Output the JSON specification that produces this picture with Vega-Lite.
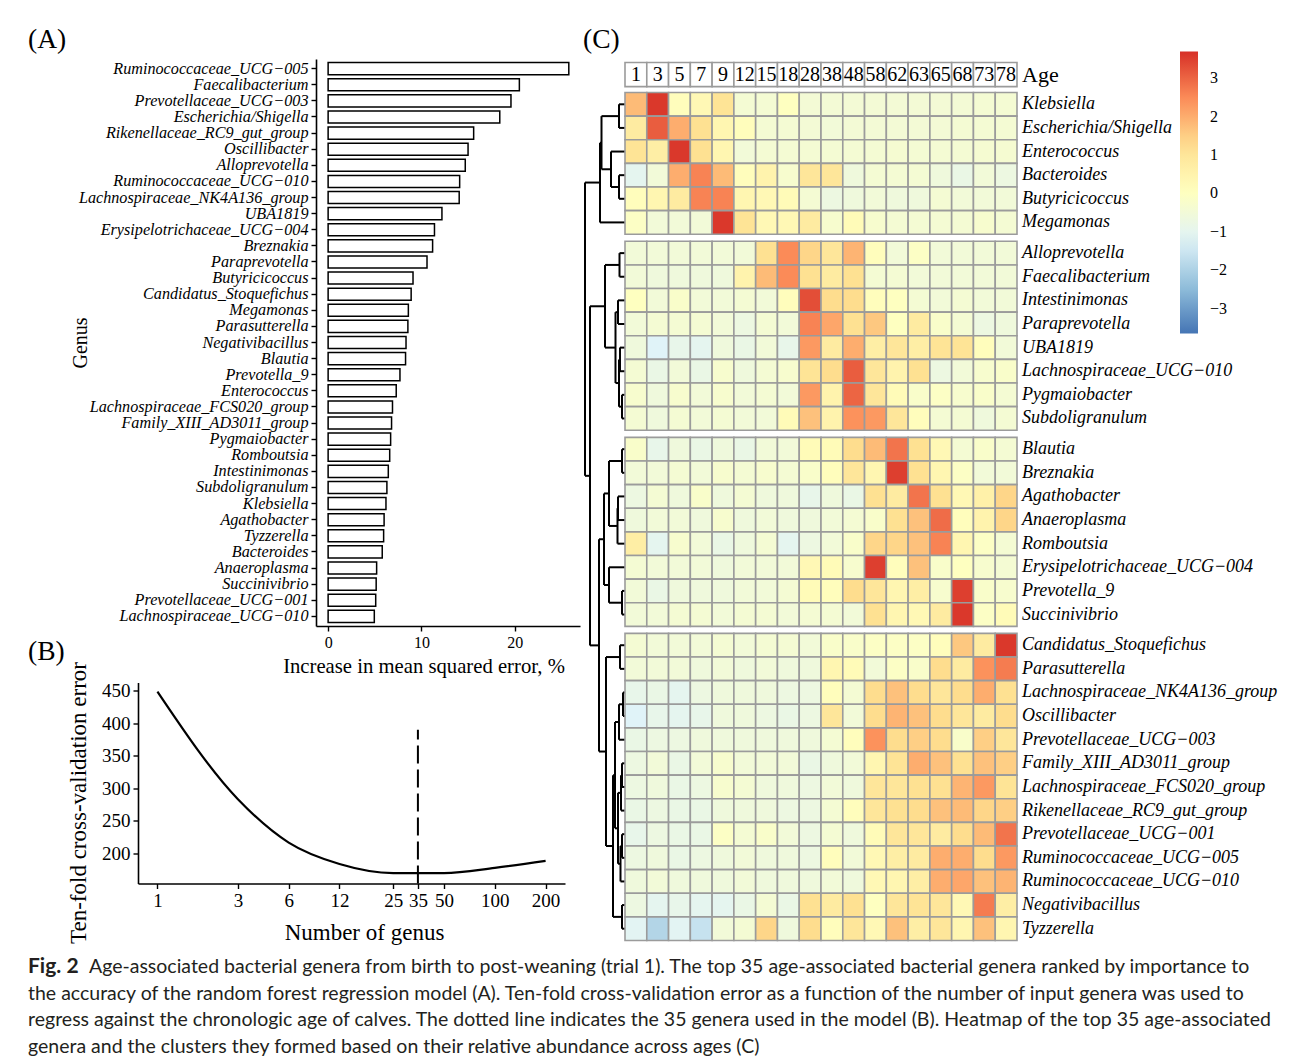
{
  "$schema": "https://vega.github.io/schema/vega-lite/v6.json",
  "padding": {"left": 28, "top": 25, "right": 5, "bottom": 5},
  "background": "white",
  "config": {
    "view": {"stroke": null},
    "font": "Liberation Serif",
    "axis": {"grid": false, "domainColor": "#000", "tickColor": "#000", "labelColor": "#000", "titleColor": "#000", "titleFontWeight": "normal", "labelFont": "Liberation Serif", "titleFont": "Liberation Serif", "domainWidth": 1.6, "tickWidth": 1.4, "tickSize": 5},
    "title": {"font": "Liberation Serif", "fontSize": 27.5, "fontWeight": "normal", "anchor": "start", "color": "#000", "frame": "group"}
  },
  "datasets": {
    "genera": [
      {"genus":"Klebsiella","imp":6.2,"row":1,"cluster":1,"1":1.8,"3":3.6,"5":0.1,"7":0.3,"9":1.1,"12":-0.4,"15":-0.4,"18":0.0,"28":-0.45,"38":-0.45,"48":-0.45,"58":-0.45,"62":-0.45,"63":-0.45,"65":-0.45,"68":-0.45,"73":-0.4,"78":-0.4},
      {"genus":"Escherichia/Shigella","imp":18.4,"row":2,"cluster":1,"1":0.8,"3":3.1,"5":2.0,"7":1.2,"9":0.4,"12":0.1,"15":-0.4,"18":-0.4,"28":-0.45,"38":-0.5,"48":-0.45,"58":-0.45,"62":-0.45,"63":-0.45,"65":-0.45,"68":-0.4,"73":-0.4,"78":-0.4},
      {"genus":"Enterococcus","imp":7.3,"row":3,"cluster":1,"1":1.1,"3":0.7,"5":3.6,"7":1.2,"9":0.4,"12":-0.5,"15":-0.4,"18":-0.4,"28":-0.4,"38":-0.4,"48":-0.4,"58":-0.4,"62":-0.35,"63":-0.4,"65":-0.4,"68":-0.4,"73":-0.35,"78":-0.35},
      {"genus":"Bacteroides","imp":5.8,"row":4,"cluster":1,"1":-1.0,"3":-0.5,"5":2.0,"7":2.6,"9":1.8,"12":0.1,"15":0.5,"18":-0.3,"28":1.0,"38":1.0,"48":-0.6,"58":-0.4,"62":-0.4,"63":-0.4,"65":-0.6,"68":-0.8,"73":-0.5,"78":-0.7},
      {"genus":"Butyricicoccus","imp":9.1,"row":5,"cluster":1,"1":0.1,"3":0.4,"5":0.8,"7":2.6,"9":2.6,"12":0.4,"15":0.3,"18":0.2,"28":-0.4,"38":-0.7,"48":-0.6,"58":-0.5,"62":-0.6,"63":-0.6,"65":-0.4,"68":-0.5,"73":-0.5,"78":-0.5},
      {"genus":"Megamonas","imp":8.6,"row":6,"cluster":1,"1":-0.1,"3":-0.5,"5":-0.5,"7":-0.5,"9":3.6,"12":1.1,"15":0.3,"18":0.3,"28":0.8,"38":-0.3,"48":0.2,"58":-0.3,"62":-0.4,"63":-0.4,"65":-0.4,"68":-0.4,"73":-0.3,"78":-0.4},
      {"genus":"Alloprevotella","imp":14.7,"row":7,"cluster":2,"1":-0.5,"3":-0.5,"5":-0.5,"7":-0.5,"9":-0.5,"12":-0.5,"15":1.2,"18":2.5,"28":1.4,"38":1.0,"48":1.9,"58":0.1,"62":-0.5,"63":-0.1,"65":-0.5,"68":-0.5,"73":-0.5,"78":-0.5},
      {"genus":"Faecalibacterium","imp":20.5,"row":8,"cluster":2,"1":-0.5,"3":-0.6,"5":-0.6,"7":-0.6,"9":-0.6,"12":0.5,"15":1.8,"18":2.5,"28":1.2,"38":0.8,"48":1.2,"58":-0.4,"62":-0.4,"63":-0.5,"65":-0.5,"68":-0.5,"73":-0.5,"78":-0.5},
      {"genus":"Intestinimonas","imp":6.45,"row":9,"cluster":2,"1":0.0,"3":-0.5,"5":-0.2,"7":-0.5,"9":-0.5,"12":-0.4,"15":-0.5,"18":0.1,"28":3.3,"38":1.3,"48":1.3,"58":0.1,"62":0.0,"63":-0.4,"65":-0.5,"68":-0.4,"73":-0.5,"78":-0.5},
      {"genus":"Paraprevotella","imp":10.6,"row":10,"cluster":2,"1":-0.5,"3":-0.4,"5":-0.4,"7":-0.4,"9":-0.5,"12":-0.7,"15":-0.4,"18":-0.5,"28":2.6,"38":2.1,"48":1.2,"58":1.6,"62":0.0,"63":0.8,"65":-0.2,"68":-0.4,"73":-0.7,"78":-0.6},
      {"genus":"UBA1819","imp":12.2,"row":11,"cluster":2,"1":-0.6,"3":-1.2,"5":-0.9,"7":-1.0,"9":-0.6,"12":-0.8,"15":-0.5,"18":-0.9,"28":2.3,"38":0.8,"48":2.0,"58":0.7,"62":1.0,"63":0.7,"65":1.1,"68":1.1,"73":0.1,"78":-0.5},
      {"genus":"Lachnospiraceae_UCG−010","imp":4.95,"row":12,"cluster":2,"1":-0.4,"3":-0.8,"5":-0.5,"7":-0.8,"9":-0.3,"12":-0.6,"15":-0.4,"18":-0.3,"28":1.1,"38":1.3,"48":3.1,"58":1.0,"62":0.5,"63":1.2,"65":-0.7,"68":-0.5,"73":-0.3,"78":-0.2},
      {"genus":"Pygmaiobacter","imp":6.7,"row":13,"cluster":2,"1":-0.3,"3":-0.6,"5":-0.3,"7":-0.5,"9":-0.3,"12":-0.5,"15":-0.4,"18":-0.5,"28":2.3,"38":0.5,"48":3.0,"58":1.0,"62":0.2,"63":-0.2,"65":-0.1,"68":-0.3,"73":-0.2,"78":-0.4},
      {"genus":"Subdoligranulum","imp":6.3,"row":14,"cluster":2,"1":-0.4,"3":-0.6,"5":-0.4,"7":-0.5,"9":-0.4,"12":-0.5,"15":-0.5,"18":0.2,"28":1.7,"38":0.5,"48":2.4,"58":2.3,"62":1.0,"63":0.1,"65":-0.4,"68":-0.4,"73":-0.6,"78":-0.4},
      {"genus":"Blautia","imp":8.3,"row":15,"cluster":3,"1":-0.2,"3":-0.9,"5":-0.6,"7":-0.8,"9":-0.6,"12":-0.8,"15":-0.5,"18":-0.5,"28":0.2,"38":0.2,"48":1.3,"58":1.8,"62":2.8,"63":1.2,"65":0.3,"68":-0.4,"73":-0.2,"78":-0.4},
      {"genus":"Breznakia","imp":11.2,"row":16,"cluster":3,"1":-0.5,"3":-0.5,"5":-0.4,"7":-0.5,"9":-0.3,"12":-0.4,"15":-0.3,"18":-0.4,"28":-0.2,"38":0.1,"48":1.0,"58":0.4,"62":3.5,"63":1.2,"65":0.4,"68":-0.1,"73":-0.5,"78":-0.5},
      {"genus":"Agathobacter","imp":6.0,"row":17,"cluster":3,"1":-0.7,"3":-0.4,"5":-0.6,"7":-0.2,"9":-0.6,"12":-0.4,"15":-0.6,"18":-0.6,"28":-0.9,"38":-0.6,"48":-0.8,"58":1.2,"62":0.8,"63":2.8,"65":1.2,"68":0.3,"73":0.6,"78":1.4},
      {"genus":"Anaeroplasma","imp":5.2,"row":18,"cluster":3,"1":-0.6,"3":-0.5,"5":-0.5,"7":-0.6,"9":-0.3,"12":-0.6,"15":-0.5,"18":-0.6,"28":-0.6,"38":-0.5,"48":-0.4,"58":-0.2,"62":1.2,"63":1.7,"65":2.9,"68":0.1,"73":0.5,"78":1.4},
      {"genus":"Romboutsia","imp":6.6,"row":19,"cluster":3,"1":0.7,"3":-1.0,"5":-0.3,"7":-0.5,"9":-0.8,"12":-0.6,"15":-0.4,"18":-1.0,"28":-0.7,"38":-0.5,"48":-0.2,"58":1.4,"62":1.4,"63":1.7,"65":2.6,"68":0.4,"73":-0.1,"78":-0.4},
      {"genus":"Erysipelotrichaceae_UCG−004","imp":11.4,"row":20,"cluster":3,"1":-0.4,"3":-0.5,"5":-0.5,"7":-0.5,"9":-0.6,"12":-0.5,"15":-0.5,"18":-0.5,"28":0.3,"38":0.2,"48":-0.3,"58":3.5,"62":0.1,"63":1.7,"65":-0.2,"68":0.0,"73":-0.3,"78":-0.4},
      {"genus":"Prevotella_9","imp":7.7,"row":21,"cluster":3,"1":-0.5,"3":-0.8,"5":-0.6,"7":-0.6,"9":-0.6,"12":-0.5,"15":-0.5,"18":-0.4,"28":0.2,"38":0.1,"48":1.3,"58":1.0,"62":0.4,"63":0.7,"65":-0.3,"68":3.5,"73":-0.2,"78":-0.3},
      {"genus":"Succinivibrio","imp":5.15,"row":22,"cluster":3,"1":-0.5,"3":-0.5,"5":-0.4,"7":-0.4,"9":-0.5,"12":-0.4,"15":-0.4,"18":-0.5,"28":-0.4,"38":-0.4,"48":-0.5,"58":1.2,"62":0.4,"63":0.3,"65":0.8,"68":3.6,"73":-0.1,"78":0.2},
      {"genus":"Candidatus_Stoquefichus","imp":8.9,"row":23,"cluster":4,"1":-0.4,"3":-0.5,"5":-0.5,"7":-0.5,"9":-0.4,"12":-0.5,"15":-0.4,"18":-0.4,"28":-0.5,"38":-0.2,"48":-0.2,"58":-0.1,"62":-0.1,"63":-0.1,"65":0.1,"68":1.6,"73":0.8,"78":3.6},
      {"genus":"Parasutterella","imp":8.55,"row":24,"cluster":4,"1":-0.5,"3":-0.5,"5":-0.5,"7":-0.6,"9":-0.5,"12":-0.6,"15":-0.5,"18":-0.6,"28":-0.6,"38":0.4,"48":0.2,"58":-0.5,"62":-0.1,"63":-0.2,"65":1.3,"68":0.8,"73":2.4,"78":2.7},
      {"genus":"Lachnospiraceae_NK4A136_group","imp":14.05,"row":25,"cluster":4,"1":-0.9,"3":-0.8,"5":-1.0,"7":-0.7,"9":-0.6,"12":-0.6,"15":-0.6,"18":-0.7,"28":-0.7,"38":0.1,"48":-0.4,"58":1.3,"62":1.7,"63":1.3,"65":1.0,"68":1.3,"73":2.0,"78":1.2},
      {"genus":"Oscillibacter","imp":15.0,"row":26,"cluster":4,"1":-1.2,"3":-0.9,"5":-1.0,"7":-0.9,"9":-0.6,"12":-0.6,"15":-0.7,"18":-0.8,"28":-0.7,"38":1.0,"48":-0.5,"58":1.3,"62":1.9,"63":1.7,"65":1.3,"68":1.0,"73":0.8,"78":1.3},
      {"genus":"Prevotellaceae_UCG−003","imp":19.6,"row":27,"cluster":4,"1":-0.8,"3":-0.7,"5":-0.7,"7":-0.6,"9":-0.6,"12":-0.6,"15":-0.6,"18":-0.6,"28":-0.6,"38":-0.4,"48":0.1,"58":2.4,"62":1.3,"63":1.5,"65":1.3,"68":-0.2,"73":1.5,"78":1.0},
      {"genus":"Family_XIII_AD3011_group","imp":6.8,"row":28,"cluster":4,"1":-0.7,"3":-0.5,"5":-0.8,"7":-0.5,"9":-0.3,"12":-0.5,"15":-0.5,"18":-0.5,"28":-0.8,"38":-0.6,"48":-0.5,"58":0.4,"62":1.1,"63":2.0,"65":1.7,"68":1.2,"73":1.7,"78":1.5},
      {"genus":"Lachnospiraceae_FCS020_group","imp":6.9,"row":29,"cluster":4,"1":-0.7,"3":-0.6,"5":-0.8,"7":-0.7,"9":-0.3,"12":-0.4,"15":-0.6,"18":-0.6,"28":-0.7,"38":-0.5,"48":-0.6,"58":1.0,"62":1.0,"63":1.2,"65":1.2,"68":1.9,"73":2.3,"78":1.1},
      {"genus":"Rikenellaceae_RC9_gut_group","imp":15.6,"row":30,"cluster":4,"1":-0.8,"3":-0.7,"5":-0.8,"7":-0.8,"9":-0.6,"12":-0.6,"15":-0.6,"18":-0.7,"28":-0.7,"38":-0.4,"48":0.1,"58":1.0,"62":1.2,"63":1.3,"65":1.7,"68":1.8,"73":1.4,"78":1.5},
      {"genus":"Prevotellaceae_UCG−001","imp":5.1,"row":31,"cluster":4,"1":-0.9,"3":-0.7,"5":-0.8,"7":-0.8,"9":-0.1,"12":-0.4,"15":-0.2,"18":-0.5,"28":-0.7,"38":-0.4,"48":-0.6,"58":0.2,"62":1.0,"63":1.0,"65":0.8,"68":1.3,"73":1.8,"78":2.8},
      {"genus":"Ruminococcaceae_UCG−005","imp":25.8,"row":32,"cluster":4,"1":-0.7,"3":-0.6,"5":-0.8,"7":-0.7,"9":-0.6,"12":-0.5,"15":-0.6,"18":-0.6,"28":-0.7,"38":0.1,"48":-0.5,"58":0.3,"62":0.7,"63":0.8,"65":2.0,"68":2.0,"73":1.3,"78":2.3},
      {"genus":"Ruminococcaceae_UCG−010","imp":14.1,"row":33,"cluster":4,"1":-0.6,"3":-0.5,"5":-0.6,"7":-0.6,"9":-0.6,"12":-0.5,"15":-0.6,"18":-0.6,"28":-0.6,"38":-0.5,"48":-0.6,"58":0.3,"62":0.4,"63":0.7,"65":2.0,"68":2.1,"73":1.7,"78":1.9},
      {"genus":"Negativibacillus","imp":8.35,"row":34,"cluster":4,"1":-0.7,"3":-1.0,"5":-0.9,"7":-1.0,"9":-1.0,"12":-0.8,"15":-0.4,"18":-0.8,"28":1.2,"38":0.8,"48":1.2,"58":0.0,"62":1.0,"63":1.1,"65":1.0,"68":0.3,"73":2.7,"78":0.7},
      {"genus":"Tyzzerella","imp":5.95,"row":35,"cluster":4,"1":-1.1,"3":-1.9,"5":-1.1,"7":-1.6,"9":-0.5,"12":-0.4,"15":1.4,"18":-0.6,"28":1.3,"38":0.1,"48":1.0,"58":0.3,"62":1.7,"63":0.7,"65":1.0,"68":0.4,"73":1.7,"78":0.4}
    ],
    "ages": [{"age":"1"},{"age":"3"},{"age":"5"},{"age":"7"},{"age":"9"},{"age":"12"},{"age":"15"},{"age":"18"},{"age":"28"},{"age":"38"},{"age":"48"},{"age":"58"},{"age":"62"},{"age":"63"},{"age":"65"},{"age":"68"},{"age":"73"},{"age":"78"}],
    "cv": [{"n":1,"err":449},{"n":3,"err":283},{"n":6,"err":216},{"n":12,"err":183},{"n":25,"err":169},{"n":50,"err":169},{"n":100,"err":177},{"n":200,"err":188}],
    "dendro": [
      {"h1":6,"h2":6,"y1":1,"y2":2},{"h1":6,"h2":0,"y1":1,"y2":1},{"h1":6,"h2":0,"y1":2,"y2":2},
      {"h1":6,"h2":6,"y1":4,"y2":5},{"h1":6,"h2":0,"y1":4,"y2":4},{"h1":6,"h2":0,"y1":5,"y2":5},
      {"h1":14,"h2":14,"y1":3,"y2":4.5},{"h1":14,"h2":0,"y1":3,"y2":3},{"h1":14,"h2":6,"y1":4.5,"y2":4.5},
      {"h1":23.5,"h2":23.5,"y1":1.5,"y2":3.75},{"h1":23.5,"h2":6,"y1":1.5,"y2":1.5},{"h1":23.5,"h2":14,"y1":3.75,"y2":3.75},
      {"h1":25,"h2":25,"y1":2.625,"y2":6},{"h1":25,"h2":23.5,"y1":2.625,"y2":2.625},{"h1":25,"h2":0,"y1":6,"y2":6},
      {"h1":5.5,"h2":5.5,"y1":7.3,"y2":8.3},{"h1":5.5,"h2":0,"y1":7.3,"y2":7.3},{"h1":5.5,"h2":0,"y1":8.3,"y2":8.3},
      {"h1":7,"h2":7,"y1":9.3,"y2":10.3},{"h1":7,"h2":0,"y1":9.3,"y2":9.3},{"h1":7,"h2":0,"y1":10.3,"y2":10.3},
      {"h1":5,"h2":5,"y1":11.3,"y2":12.3},{"h1":5,"h2":0,"y1":11.3,"y2":11.3},{"h1":5,"h2":0,"y1":12.3,"y2":12.3},
      {"h1":3,"h2":3,"y1":13.3,"y2":14.3},{"h1":3,"h2":0,"y1":13.3,"y2":13.3},{"h1":3,"h2":0,"y1":14.3,"y2":14.3},
      {"h1":6,"h2":6,"y1":11.8,"y2":13.8},{"h1":6,"h2":5,"y1":11.8,"y2":11.8},{"h1":6,"h2":3,"y1":13.8,"y2":13.8},
      {"h1":9.5,"h2":9.5,"y1":9.8,"y2":12.8},{"h1":9.5,"h2":7,"y1":9.8,"y2":9.8},{"h1":9.5,"h2":6,"y1":12.8,"y2":12.8},
      {"h1":20,"h2":20,"y1":7.8,"y2":11.3},{"h1":20,"h2":5.5,"y1":7.8,"y2":7.8},{"h1":20,"h2":9.5,"y1":11.3,"y2":11.3},
      {"h1":3,"h2":3,"y1":15.6,"y2":16.6},{"h1":3,"h2":0,"y1":15.6,"y2":15.6},{"h1":3,"h2":0,"y1":16.6,"y2":16.6},
      {"h1":7,"h2":7,"y1":17.6,"y2":18.6},{"h1":7,"h2":0,"y1":17.6,"y2":17.6},{"h1":7,"h2":0,"y1":18.6,"y2":18.6},
      {"h1":7.5,"h2":7.5,"y1":18.1,"y2":19.6},{"h1":7.5,"h2":7,"y1":18.1,"y2":18.1},{"h1":7.5,"h2":0,"y1":19.6,"y2":19.6},
      {"h1":16,"h2":16,"y1":16.1,"y2":18.85},{"h1":16,"h2":3,"y1":16.1,"y2":16.1},{"h1":16,"h2":7.5,"y1":18.85,"y2":18.85},
      {"h1":3,"h2":3,"y1":21.6,"y2":22.6},{"h1":3,"h2":0,"y1":21.6,"y2":21.6},{"h1":3,"h2":0,"y1":22.6,"y2":22.6},
      {"h1":16,"h2":16,"y1":20.6,"y2":22.1},{"h1":16,"h2":0,"y1":20.6,"y2":20.6},{"h1":16,"h2":3,"y1":22.1,"y2":22.1},
      {"h1":21,"h2":21,"y1":17.475,"y2":21.35},{"h1":21,"h2":16,"y1":17.475,"y2":17.475},{"h1":21,"h2":16,"y1":21.35,"y2":21.35},
      {"h1":5,"h2":5,"y1":23.9,"y2":24.9},{"h1":5,"h2":0,"y1":23.9,"y2":23.9},{"h1":5,"h2":0,"y1":24.9,"y2":24.9},
      {"h1":2,"h2":2,"y1":25.9,"y2":26.9},{"h1":2,"h2":0,"y1":25.9,"y2":25.9},{"h1":2,"h2":0,"y1":26.9,"y2":26.9},
      {"h1":6,"h2":6,"y1":26.4,"y2":27.9},{"h1":6,"h2":2,"y1":26.4,"y2":26.4},{"h1":6,"h2":0,"y1":27.9,"y2":27.9},
      {"h1":3,"h2":3,"y1":28.9,"y2":29.9},{"h1":3,"h2":0,"y1":28.9,"y2":28.9},{"h1":3,"h2":0,"y1":29.9,"y2":29.9},
      {"h1":4,"h2":4,"y1":29.4,"y2":30.9},{"h1":4,"h2":3,"y1":29.4,"y2":29.4},{"h1":4,"h2":0,"y1":30.9,"y2":30.9},
      {"h1":3,"h2":3,"y1":31.9,"y2":32.9},{"h1":3,"h2":0,"y1":31.9,"y2":31.9},{"h1":3,"h2":0,"y1":32.9,"y2":32.9},
      {"h1":4.5,"h2":4.5,"y1":32.4,"y2":33.9},{"h1":4.5,"h2":3,"y1":32.4,"y2":32.4},{"h1":4.5,"h2":0,"y1":33.9,"y2":33.9},
      {"h1":7,"h2":7,"y1":30.15,"y2":33.15},{"h1":7,"h2":4,"y1":30.15,"y2":30.15},{"h1":7,"h2":4.5,"y1":33.15,"y2":33.15},
      {"h1":10,"h2":10,"y1":27.15,"y2":31.65},{"h1":10,"h2":6,"y1":27.15,"y2":27.15},{"h1":10,"h2":7,"y1":31.65,"y2":31.65},
      {"h1":3,"h2":3,"y1":34.9,"y2":35.9},{"h1":3,"h2":0,"y1":34.9,"y2":34.9},{"h1":3,"h2":0,"y1":35.9,"y2":35.9},
      {"h1":12,"h2":12,"y1":29.4,"y2":35.4},{"h1":12,"h2":10,"y1":29.4,"y2":29.4},{"h1":12,"h2":3,"y1":35.4,"y2":35.4},
      {"h1":19,"h2":19,"y1":24.4,"y2":32.4},{"h1":19,"h2":5,"y1":24.4,"y2":24.4},{"h1":19,"h2":12,"y1":32.4,"y2":32.4},
      {"h1":26,"h2":26,"y1":19.4125,"y2":28.4},{"h1":26,"h2":21,"y1":19.4125,"y2":19.4125},{"h1":26,"h2":19,"y1":28.4,"y2":28.4},
      {"h1":35,"h2":35,"y1":9.55,"y2":23.906},{"h1":35,"h2":20,"y1":9.55,"y2":9.55},{"h1":35,"h2":26,"y1":23.906,"y2":23.906},
      {"h1":40,"h2":40,"y1":4.3125,"y2":16.728},{"h1":40,"h2":25,"y1":4.3125,"y2":4.3125},{"h1":40,"h2":35,"y1":16.728,"y2":16.728}
    ],
    "caption": [
      {"part":"label","line":1,"text":"Fig. 2"},
      {"part":"first","line":1,"text":"Age-associated bacterial genera from birth to post-weaning (trial 1). The top 35 age-associated bacterial genera ranked by importance to"},
      {"part":"body","line":2,"text":"the accuracy of the random forest regression model (A). Ten-fold cross-validation error as a function of the number of input genera was used to"},
      {"part":"body","line":3,"text":"regress against the chronologic age of calves. The dotted line indicates the 35 genera used in the model (B). Heatmap of the top 35 age-associated"},
      {"part":"body","line":4,"text":"genera and the clusters they formed based on their relative abundance across ages (C)"}
    ]
  },
  "vconcat": [
    {
      "hconcat": [
        {
          "vconcat": [
            {
              "title": {"text": "(A)", "dx": -110, "offset": 6},
              "width": 442,
              "height": 567,
              "data": {"name": "genera"},
              "mark": {"type": "bar", "fill": "white", "stroke": "black", "strokeWidth": 1.5},
              "encoding": {
                "y": {"field": "genus", "type": "nominal", "sort": {"field": "imp", "order": "descending"},
                      "scale": {"paddingInner": 0.25, "paddingOuter": 0.225},
                      "axis": {"orient": "left", "offset": -178, "title": "Genus", "labelFontStyle": "italic", "labelFontSize": 16.2, "labelLimit": 0, "labelPadding": 3, "titleFontSize": 20, "titleX": -236, "titleY": 283.5, "titleAngle": -90, "titleBaseline": "middle", "titleAlign": "center"}},
                "x": {"field": "imp", "type": "quantitative",
                      "scale": {"domain": [-1.3, 27], "range": [178, 442], "nice": false, "zero": false},
                      "axis": {"values": [0, 10, 20], "title": "Increase in mean squared error, %", "labelFontSize": 16, "labelPadding": 3, "titleFontSize": 20.7, "titleX": 285.5, "titleY": 40, "titleBaseline": "middle", "titleAlign": "center"}},
                "x2": {"datum": 0}
              }
            },
            {
              "title": {"text": "(B)", "dx": -110, "offset": -4},
              "width": 427,
              "height": 201,
              "layer": [
                {
                  "data": {"name": "cv"},
                  "mark": {"type": "line", "color": "black", "strokeWidth": 2.2, "interpolate": "monotone"},
                  "encoding": {
                    "x": {"field": "n", "type": "quantitative",
                          "scale": {"type": "log", "domain": [0.767, 260.6], "nice": false},
                          "axis": {"values": [1, 3, 6, 12, 25, 35, 50, 100, 200], "format": "~g", "title": "Number of genus", "labelFontSize": 19, "labelPadding": 3, "titleFontSize": 23, "titleX": 226, "titleY": 49, "titleBaseline": "middle", "titleAlign": "center"}},
                    "y": {"field": "err", "type": "quantitative",
                          "scale": {"domain": [153, 463], "nice": false, "zero": false},
                          "axis": {"values": [200, 250, 300, 350, 400, 450], "title": "Ten-fold cross-validation error", "labelFontSize": 19, "labelPadding": 3, "titleFontSize": 23, "titleX": -60, "titleY": 120, "titleAngle": -90, "titleBaseline": "middle", "titleAlign": "center"}}
                  }
                },
                {
                  "data": {"values": [{"selected": 35}]},
                  "mark": {"type": "rule", "color": "black", "strokeWidth": 2, "strokeDash": [18, 6]},
                  "encoding": {
                    "x": {"field": "selected", "type": "quantitative"},
                    "y": {"datum": 153},
                    "y2": {"datum": 390}
                  }
                }
              ]
            }
          ],
          "bounds": "flush",
          "spacing": 56.5
        },
        {
          "title": {"text": "(C)", "dx": -2, "offset": 6},
          "width": 432,
          "height": 881.5,
          "layer": [
            {
              "data": {"name": "dendro"},
              "mark": {"type": "rule", "color": "black", "strokeWidth": 2},
              "encoding": {
                "x": {"field": "h1", "type": "quantitative", "scale": {"domain": [0, 40], "range": [40, 0]}, "axis": null},
                "x2": {"field": "h2"},
                "y": {"field": "y1", "type": "quantitative", "scale": {"domain": [-0.918, 36.4], "reverse": true, "nice": false, "zero": false}, "axis": null},
                "y2": {"field": "y2"}
              }
            },
            {
              "layer": [
                {
                  "data": {"name": "genera"},
                  "transform": [
                    {"fold": ["1","3","5","7","9","12","15","18","28","38","48","58","62","63","65","68","73","78"], "as": ["age", "value"]},
                    {"calculate": "datum.row + 0.3*(datum.cluster-1) - 0.5", "as": "yt"},
                    {"calculate": "datum.yt + 1", "as": "yb"}
                  ],
                  "mark": {"type": "rect", "stroke": "#9b9b9b", "strokeWidth": 1.6},
                  "encoding": {
                    "x": {"field": "age", "type": "nominal", "scale": {"domain": ["1","3","5","7","9","12","15","18","28","38","48","58","62","63","65","68","73","78"], "range": [40, 432], "paddingInner": 0, "paddingOuter": 0}, "axis": null},
                    "y": {"field": "yt", "type": "quantitative", "axis": null},
                    "y2": {"field": "yb"},
                    "color": {"field": "value", "type": "quantitative",
                              "scale": {"domain": [-3.65, -2.43, -1.2, 0.03, 1.25, 2.47, 3.7], "range": ["#4575B4", "#91BFDB", "#E0F3F8", "#FFFFBF", "#FEE090", "#FC8D59", "#D73027"], "interpolate": "rgb"},
                              "legend": {"orient": "none", "legendX": 1042, "legendY": -7.5, "direction": "vertical", "gradientLength": 282, "gradientThickness": 18, "title": null, "values": [-3, -2, -1, 0, 1, 2, 3], "labelFontSize": 16, "labelFont": "Liberation Serif", "labelOffset": 12, "labelColor": "#000", "gradientStrokeWidth": 0}}
                  }
                },
                {
                  "data": {"name": "ages"},
                  "mark": {"type": "rect", "fill": "white", "stroke": "#9b9b9b", "strokeWidth": 1.6},
                  "encoding": {
                    "x": {"field": "age", "type": "nominal"},
                    "y": {"datum": -0.77},
                    "y2": {"datum": 0.25}
                  }
                },
                {
                  "data": {"name": "ages"},
                  "mark": {"type": "text", "fontSize": 20, "baseline": "middle", "font": "Liberation Serif", "color": "#000"},
                  "encoding": {
                    "x": {"field": "age", "type": "nominal"},
                    "y": {"datum": -0.26},
                    "text": {"field": "age"}
                  }
                },
                {
                  "data": {"values": [{"label": "Age"}]},
                  "mark": {"type": "text", "fontSize": 22, "baseline": "middle", "align": "left", "dx": 5, "font": "Liberation Serif", "color": "#000"},
                  "encoding": {
                    "x": {"datum": "78", "type": "nominal", "bandPosition": 1},
                    "y": {"datum": -0.26},
                    "text": {"field": "label"}
                  }
                },
                {
                  "data": {"name": "genera"},
                  "transform": [{"calculate": "datum.row + 0.3*(datum.cluster-1)", "as": "ypos"}],
                  "mark": {"type": "text", "fontSize": 18, "fontStyle": "italic", "baseline": "middle", "align": "left", "dx": 5, "font": "Liberation Serif", "color": "#000"},
                  "encoding": {
                    "x": {"datum": "78", "type": "nominal", "bandPosition": 1},
                    "y": {"field": "ypos", "type": "quantitative"},
                    "text": {"field": "genus"}
                  }
                }
              ]
            }
          ],
          "resolve": {"scale": {"x": "independent"}}
        }
      ],
      "spacing": 3
    },
    {
      "width": 1000,
      "height": 106,
      "data": {"name": "caption"},
      "encoding": {
        "x": {"datum": 0, "type": "quantitative", "scale": {"domain": [0, 1]}, "axis": null},
        "y": {"field": "line", "type": "quantitative", "scale": {"domain": [0.5, 4.5], "reverse": true, "nice": false, "zero": false}, "axis": null},
        "text": {"field": "text"}
      },
      "layer": [
        {"transform": [{"filter": "datum.part == 'label'"}], "mark": {"type": "text", "font": "Lato", "fontSize": 21, "fontWeight": "bold", "align": "left", "baseline": "middle", "dx": -110, "color": "#231f20"}},
        {"transform": [{"filter": "datum.part == 'first'"}], "mark": {"type": "text", "font": "Lato", "fontSize": 19.5, "align": "left", "baseline": "middle", "dx": -49, "color": "#231f20"}},
        {"transform": [{"filter": "datum.part == 'body'"}], "mark": {"type": "text", "font": "Lato", "fontSize": 19.5, "align": "left", "baseline": "middle", "dx": -110, "color": "#231f20"}}
      ]
    }
  ],
  "spacing": 9
}
